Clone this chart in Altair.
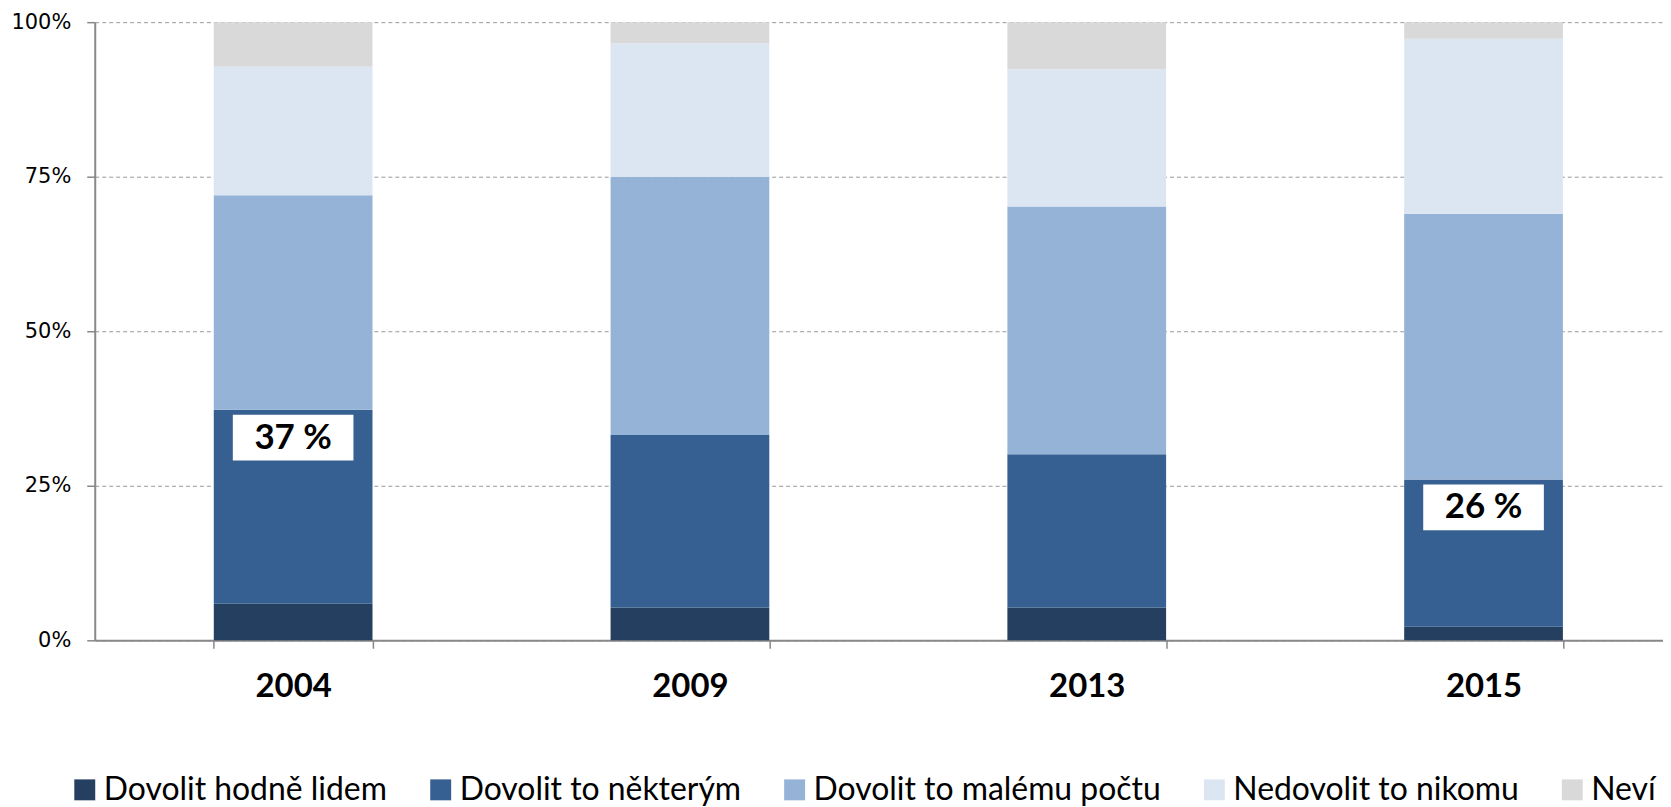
import altair as alt
import pandas as pd

years = ["2004", "2009", "2013", "2015"]
categories = ["Dovolit hodně lidem", "Dovolit to některým", "Dovolit to malému počtu",
              "Nedovolit to nikomu", "Neví"]
colors = ["#243F60", "#366092", "#95B3D7", "#DCE6F2", "#D9D9D9"]

hodne = [5.9, 5.3, 5.3, 2.2]
nekterym = [31.4, 27.9, 24.8, 23.8]
malemu = [34.7, 41.8, 40.1, 43.0]
nedovolit = [20.8, 21.6, 22.2, 28.3]
nevi = [7.2, 3.4, 7.6, 2.7]

label_years = ["2004", "2015"]
label_texts = ["37 %", "26 %"]
label_tops = [37.3, 26.0]

series = [hodne, nekterym, malemu, nedovolit, nevi]
rows = []
for ci, (cat, vals) in enumerate(zip(categories, series)):
    for y, v in zip(years, vals):
        rows.append({"year": y, "cat": cat, "idx": ci, "value": v})
df = pd.DataFrame(rows)

lab = pd.DataFrame({"year": label_years, "text": label_texts, "top": label_tops})
lab["box_top"] = lab["top"] - 0.8
lab["box_bot"] = lab["top"] - 8.2
lab["mid"] = lab["top"] - 4.5

xscale = alt.Scale(domain=years, paddingInner=0.6, paddingOuter=0.3)
yscale = alt.Scale(domain=[0, 100], nice=False)

bars = alt.Chart(df).mark_bar().encode(
    x=alt.X("year:N", sort=years, scale=xscale, title=None,
            axis=alt.Axis(labelFont="Lato", labelFontWeight="bold", labelFontSize=33,
                          labelColor="#000000", labelAngle=0, labelPadding=22,
                          tickBand="extent", tickSize=8, tickColor="#888888",
                          tickWidth=1.5, domainColor="#888888", domainWidth=2,
                          grid=False)),
    y=alt.Y("value:Q", stack="zero", scale=yscale, title=None,
            axis=alt.Axis(values=[0, 25, 50, 75, 100], labelExpr="datum.value + '%'",
                          labelFont="DejaVu Sans", labelFontSize=21, labelColor="#000000",
                          labelPadding=16, tickSize=8, tickColor="#888888", tickWidth=1.5,
                          domainColor="#888888", domainWidth=2,
                          grid=True, gridColor="#999999", gridDash=[4, 3], gridWidth=1)),
    color=alt.Color("cat:N", scale=alt.Scale(domain=categories, range=colors),
                    legend=alt.Legend(title=None, orient="none", direction="horizontal",
                                      legendX=-26, legendY=754,
                                      labelFont="Lato", labelFontSize=32, labelColor="#000000",
                                      symbolType="square", symbolSize=441,
                                      symbolStrokeWidth=0, labelOffset=3,
                                      columnPadding=37, labelLimit=600)),
    order=alt.Order("idx:Q", sort="ascending"),
)

boxes = alt.Chart(lab).mark_bar(color="white", width=121).encode(
    x=alt.X("year:N", sort=years, scale=xscale),
    y=alt.Y("box_top:Q", scale=yscale),
    y2="box_bot:Q",
)

texts = alt.Chart(lab).mark_text(font="Lato", fontWeight="bold", fontSize=35,
                                 color="#000000", baseline="middle", align="center").encode(
    x=alt.X("year:N", sort=years, scale=xscale),
    y=alt.Y("mid:Q", scale=yscale),
    text="text:N",
)

chart = alt.layer(bars, boxes, texts).properties(
    width=1592, height=620,
    autosize=alt.AutoSizeParams(type="none"),
    padding={"left": 87, "top": 13, "right": -19, "bottom": 172},
).configure_view(stroke=None).configure_axis(labelFlush=False)

chart.save("out.html", embed_options={"renderer": "svg", "actions": False})
